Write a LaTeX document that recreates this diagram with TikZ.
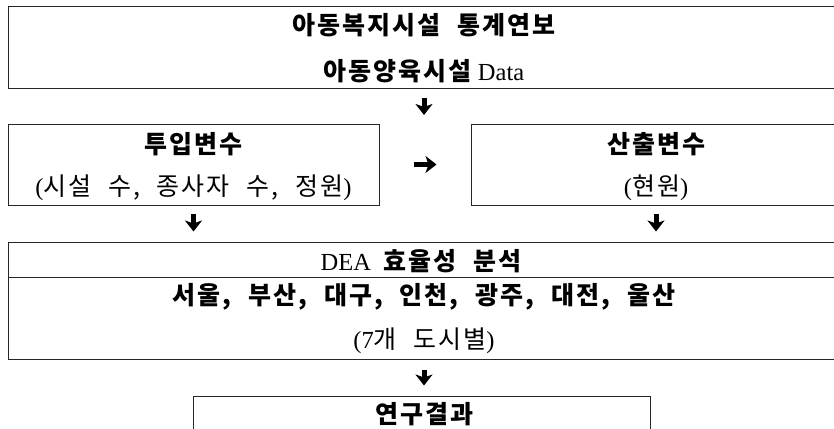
\documentclass[tikz,border=0pt]{standalone}
\usepackage{fontspec}
\setmainfont{Liberation Serif}[Scale=0.98]
\newfontfamily\kr[LetterSpace=8,WordSpace=2.2]{Noto Sans CJK KR}
\usetikzlibrary{arrows.meta}
\newcommand{\ko}[1]{{\kr #1}}

\tikzset{
  box/.style={draw=black!85, line width=1pt, inner sep=0pt},
  head/.style={font=\bfseries\fontsize{25}{30}\selectfont, inner sep=0pt},
  sub/.style={font=\fontsize{25}{30}\selectfont, inner sep=0pt},
  down/.style={line width=5pt, -{Stealth[length=11pt,width=17pt,inset=3pt]}},
}

\begin{document}
\begin{tikzpicture}[x=1pt,y=-1pt]
  \clip (0,0) rectangle (834,428);
  % boxes
  \node[box, minimum width=832pt, minimum height=81pt] (data) at (424,47.5) {};
  \node[box, minimum width=371pt, minimum height=81pt] (in) at (193.5,164.5) {};
  \node[box, minimum width=370pt, minimum height=81pt] (out) at (656,164.5) {};
  \node[box, minimum width=832pt, minimum height=117pt] (dea) at (424,300.5) {};
  \node[box, minimum width=457pt, minimum height=60pt] (res) at (421.5,426) {};
  \draw[box] ([yshift=-36pt]dea.north west) -- ([yshift=-36pt]dea.north east);

  % texts
  \node[head] (t1) at (424,25) {\ko{아동복지시설 통계연보}};
  \node[head] (t2) at (424,71) {\ko{아동양육시설}\ {\mdseries Data}};
  \node[head] (t3) at (193.5,144) {\ko{투입변수}};
  \node[sub] (t4) at (193.5,188) {(\ko{시설 수, 종사자 수, 정원})};
  \node[head] (t5) at (656,144) {\ko{산출변수}};
  \node[sub] (t6) at (656,188) {(\ko{현원})};
  \node[head] (t7) at (421,261) {{\mdseries DEA}\ \ \ko{효율성 분석}};
  \node[head] (t8) at (424,297) {\ko{서울, 부산, 대구, 인천, 광주, 대전, 울산}};
  \node[sub] (t9) at (424,341) {(7\ko{개 도시별})};
  \node[head] (t10) at (424,414) {\ko{연구결과}};

  % arrows
  \coordinate (a0) at (424,115);
  \draw[down, shorten <=9pt] (data.south) -- (a0);
  \draw[down, shorten <=34pt, shorten >=34pt] (in.east) -- (out.west);
  \draw[down, shorten <=8pt, shorten >=10pt] (in.south) -- (in.south |- dea.north);
  \draw[down, shorten <=8pt, shorten >=10pt] (out.south) -- (out.south |- dea.north);
  \draw[down, shorten <=10pt, shorten >=10pt] (dea.south) -- (dea.south |- res.north);
\end{tikzpicture}
\end{document}
